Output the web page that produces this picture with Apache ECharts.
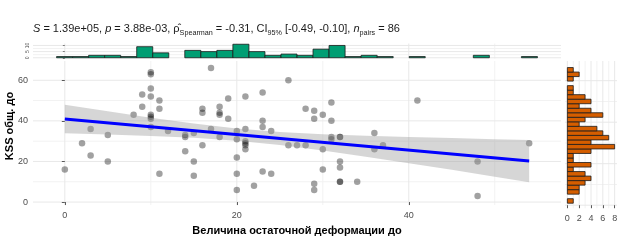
<!DOCTYPE html>
<html>
<head>
<meta charset="utf-8">
<script src="https://cdn.jsdelivr.net/npm/echarts@6/dist/echarts.min.js"></script>
<style>
html, body { margin: 0; padding: 0; background: #fff; }
#chart { width: 623px; height: 241px; }
</style>
</head>
<body>
<div id="chart"></div>
<script>
// residual deformation (x) vs KSS total before (y), 86 pairs
var deformation = [0, 2, 3, 3, 5, 5, 8, 9, 9, 10, 10, 10, 10, 10, 10, 10, 10, 11, 11, 11, 12,
    14, 14, 14, 15, 15, 15, 16, 16, 16, 17, 17, 18, 18, 18, 18, 19, 19, 20, 20, 20, 20, 20,
    21, 21, 21, 21, 21, 21, 22, 23, 23, 23, 23, 24, 24, 26, 26, 27, 28, 28, 29, 29, 29, 29,
    30, 30, 30, 31, 31, 31, 31, 32, 32, 32, 32, 32, 32, 34, 36, 36, 37, 41, 48, 48, 54];
var kssTotal = [16, 29, 36, 23, 33, 20, 43, 53, 47, 63, 64, 56, 52, 43, 42, 41, 37, 50, 46, 14, 35,
    32, 33, 25, 34, 20, 13, 46, 44, 28, 66, 36, 47, 44, 43, 32, 51, 41, 35, 31, 22, 14, 6,
    52, 36, 30, 29, 28, 26, 8, 54, 40, 37, 15, 35, 14, 60, 28, 28, 46, 28, 45, 41, 9, 6,
    43, 26, 16, 49, 40, 32, 31, 32, 32, 20, 17, 10, 10, 10, 34, 26, 28, 50, 20, 3, 29];

// linear fit and its confidence band
var fitX = [0, 54];
var fitY = [40.9, 20.2];
var bandX = [0, 5, 10, 15, 20, 25, 30, 35, 40, 45, 50, 54];
var bandUpper = [47.9, 44.7, 41.5, 38.7, 36.2, 34.5, 33.4, 32.7, 32.1, 31.5, 31.0, 30.6];
var bandLower = [33.9, 33.3, 32.6, 31.7, 30.2, 28.1, 25.4, 22.3, 19.1, 15.9, 12.5, 9.8];

// marginal histograms (30 bins each)
var xBinStart = -0.96, xBinWidth = 1.864;
var xCounts = [1, 1, 2, 2, 1, 9, 4, 0, 6, 5, 6, 11, 5, 2, 3, 2, 7, 10, 1, 2, 1, 0, 1, 0, 0, 0, 2, 0, 0, 1];
var yBinStart = 0.95, yBinWidth = 2.18;
var yCounts = [1, 0, 2, 2, 3, 4, 3, 1, 4, 1, 1, 4, 8, 4, 7, 6, 5, 2, 3, 6, 4, 2, 4, 3, 1, 1, 0, 1, 2, 1];

// tick labels / grid lines
var xTicks = [0, 20, 40], xMinor = [10, 30, 50];
var yTicks = [0, 20, 40, 60], yMinor = [10, 30, 50];
var topCountTicks = [0, 5, 10], topCountMinor = [2.5, 7.5];
var rightCountTicks = [0, 2, 4, 6, 8], rightCountMinor = [1, 3, 5, 7];

var chart = echarts.init(document.getElementById('chart'));

var labelStyle = { fontSize: 9, color: '#4d4d4d', fontFamily: 'Liberation Sans, Arial, sans-serif' };
var tickStyle = { show: true, length: 3, lineStyle: { color: '#333', width: 0.8 } };

function gridLines(xi, yi, values, dir, color) {
    return {
        type: 'custom',
        xAxisIndex: xi,
        yAxisIndex: yi,
        silent: true,
        z: 0,
        data: values.map(function (v) { return dir === 'v' ? [v, 0] : [0, v]; }),
        renderItem: function (params, api) {
            var cs = params.coordSys;
            var p = api.coord([api.value(0), api.value(1)]);
            var shape = dir === 'v'
                ? { x1: p[0], y1: cs.y, x2: p[0], y2: cs.y + cs.height }
                : { x1: cs.x, y1: p[1], x2: cs.x + cs.width, y2: p[1] };
            return { type: 'line', shape: shape, style: { stroke: color, lineWidth: 1 } };
        }
    };
}

var MAJOR = '#e8e8e8', MINOR = '#f2f2f2';

var scatterData = deformation.map(function (x, i) { return [x, kssTotal[i]]; });

var option = {
    animation: false,
    grid: [
        { left: 33, top: 61, width: 528, height: 147.3 },
        { left: 33, top: 43.5, width: 528, height: 15 },
        { left: 565, top: 61, width: 52, height: 147.3 }
    ],
    xAxis: [
        {
            gridIndex: 0, type: 'value', min: -3.7, max: 57.7,
            axisLine: { show: false },
            axisTick: Object.assign({ customValues: xTicks }, tickStyle),
            axisLabel: Object.assign({ customValues: xTicks, margin: 6 }, labelStyle),
            splitLine: { show: false },
            name: 'Величина остаточной деформации до',
            nameLocation: 'middle',
            nameGap: 19,
            nameTextStyle: { fontSize: 11, fontWeight: 'bold', color: '#000', fontFamily: 'Liberation Sans, Arial, sans-serif' }
        },
        {
            gridIndex: 1, type: 'value', min: -3.7, max: 57.7,
            axisLine: { show: false }, axisTick: { show: false }, axisLabel: { show: false },
            splitLine: { show: false }
        },
        {
            gridIndex: 2, type: 'value', min: -0.4, max: 8.4,
            axisLine: { show: false },
            axisTick: Object.assign({ customValues: rightCountTicks }, tickStyle),
            axisLabel: Object.assign({ customValues: rightCountTicks, margin: 6 }, labelStyle),
            splitLine: { show: false }
        }
    ],
    yAxis: [
        {
            gridIndex: 0, type: 'value', min: -1.5, max: 69.5,
            axisLine: { show: false },
            axisTick: Object.assign({ customValues: yTicks }, tickStyle),
            axisLabel: Object.assign({ customValues: yTicks, margin: 5 }, labelStyle),
            splitLine: { show: false }
        },
        {
            gridIndex: 1, type: 'value', min: -0.6, max: 11.6,
            axisLine: { show: false },
            axisTick: { show: true, length: 2, customValues: topCountTicks, lineStyle: { color: '#333', width: 0.6 } },
            axisLabel: { customValues: topCountTicks, margin: 3, fontSize: 5, rotate: 90, color: '#4d4d4d' },
            splitLine: { show: false }
        },
        {
            gridIndex: 2, type: 'value', min: -1.5, max: 69.5,
            axisLine: { show: false }, axisTick: { show: false }, axisLabel: { show: false },
            splitLine: { show: false }
        }
    ],
    graphic: [
        {
            type: 'text',
            left: 33,
            top: 21,
            style: {
                text: '{i|S} = 1.39e+05, {i|p} = 3.88e-03, ρ̂{sub|Spearman} = -0.31, CI{sub|95%} [-0.49, -0.10], {i|n}{sub|pairs} = 86',
                fontSize: 11,
                fontFamily: 'Liberation Sans, Arial, sans-serif',
                fill: '#1a1a1a',
                lineHeight: 16,
                rich: {
                    i: { fontStyle: 'italic', fontSize: 11, lineHeight: 16 },
                    sub: { fontSize: 7.2, lineHeight: 10, verticalAlign: 'bottom' }
                }
            }
        },
        {
            type: 'text',
            x: 10,
            y: 126,
            rotation: Math.PI / 2,
            style: {
                text: 'KSS общ. до',
                fontSize: 11,
                fontWeight: 'bold',
                fontFamily: 'Liberation Sans, Arial, sans-serif',
                fill: '#000',
                align: 'center',
                verticalAlign: 'middle'
            }
        }
    ],
    series: [
        gridLines(0, 0, xMinor, 'v', MINOR),
        gridLines(0, 0, yMinor, 'h', MINOR),
        gridLines(0, 0, xTicks, 'v', MAJOR),
        gridLines(0, 0, yTicks, 'h', MAJOR),
        gridLines(1, 1, xMinor, 'v', MINOR),
        gridLines(1, 1, topCountMinor, 'h', MINOR),
        gridLines(1, 1, xTicks, 'v', MAJOR),
        gridLines(1, 1, topCountTicks, 'h', MAJOR),
        gridLines(2, 2, rightCountMinor, 'v', MINOR),
        gridLines(2, 2, yMinor, 'h', MINOR),
        gridLines(2, 2, rightCountTicks, 'v', MAJOR),
        gridLines(2, 2, yTicks, 'h', MAJOR),
        {
            type: 'scatter',
            xAxisIndex: 0, yAxisIndex: 0,
            data: scatterData,
            symbolSize: 6.5,
            itemStyle: { color: 'rgba(0,0,0,0.46)' },
            z: 3
        },
        {
            type: 'custom',
            xAxisIndex: 0, yAxisIndex: 0,
            silent: true,
            z: 4,
            data: [[0, 0]],
            renderItem: function (params, api) {
                var pts = [];
                bandX.forEach(function (x, i) { pts.push(api.coord([x, bandUpper[i]])); });
                for (var i = bandX.length - 1; i >= 0; i--) pts.push(api.coord([bandX[i], bandLower[i]]));
                return { type: 'polygon', shape: { points: pts }, style: { fill: 'rgba(153,153,153,0.4)' } };
            }
        },
        {
            type: 'line',
            xAxisIndex: 0, yAxisIndex: 0,
            data: fitX.map(function (x, i) { return [x, fitY[i]]; }),
            showSymbol: false,
            lineStyle: { color: '#0000ff', width: 3 },
            z: 5
        },
        {
            type: 'custom',
            xAxisIndex: 1, yAxisIndex: 1,
            z: 2,
            data: xCounts.map(function (c, i) { return [xBinStart + i * xBinWidth, c]; }),
            renderItem: function (params, api) {
                var c = api.value(1);
                if (!c) return null;
                var x0 = api.value(0);
                var p0 = api.coord([x0, 0]);
                var p1 = api.coord([x0 + xBinWidth, c]);
                return {
                    type: 'rect',
                    shape: { x: p0[0], y: p1[1], width: p1[0] - p0[0], height: p0[1] - p1[1] },
                    style: { fill: '#009e73', stroke: '#1a1a1a', lineWidth: 0.8 }
                };
            }
        },
        {
            type: 'custom',
            xAxisIndex: 2, yAxisIndex: 2,
            z: 2,
            data: yCounts.map(function (c, i) { return [c, yBinStart + i * yBinWidth]; }),
            renderItem: function (params, api) {
                var c = api.value(0);
                if (!c) return null;
                var y0 = api.value(1);
                var p0 = api.coord([0, y0]);
                var p1 = api.coord([c, y0 + yBinWidth]);
                return {
                    type: 'rect',
                    shape: { x: p0[0], y: p1[1], width: p1[0] - p0[0], height: p0[1] - p1[1] },
                    style: { fill: '#d55e00', stroke: '#1a1a1a', lineWidth: 0.8 }
                };
            }
        }
    ]
};

chart.setOption(option);
window.addEventListener('resize', function () { chart.resize(); });
</script>
</body>
</html>
